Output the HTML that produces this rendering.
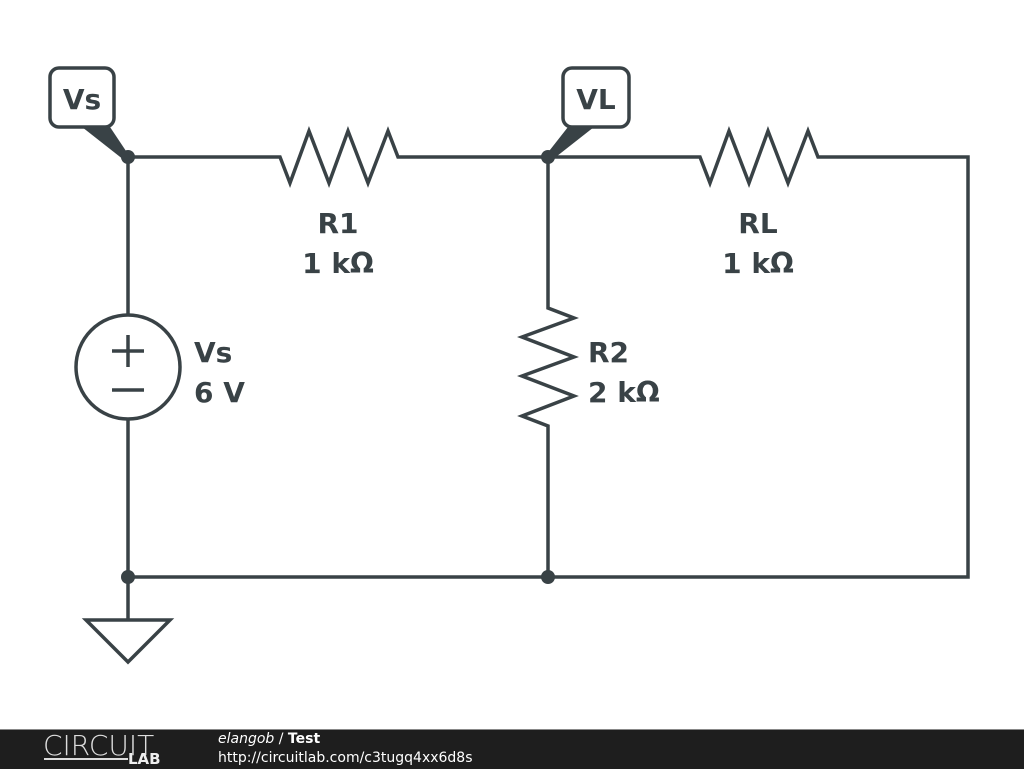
<!DOCTYPE html>
<html><head><style>
body{margin:0;width:1024px;height:768px;background:#fff;overflow:hidden;position:relative;font-family:"DejaVu Sans","Liberation Sans",sans-serif}
svg{position:absolute;left:0;top:0}
.f{position:absolute;left:0;top:729px;width:1024px;height:39px;background:#1e1e1e;border-top:1px solid #888}
</style></head><body>
<svg width="1024" height="768" viewBox="0 0 1024 768">
<g stroke="#394246" stroke-width="3.5" fill="none" stroke-linejoin="miter">
<path d="M128 157 H280 L290 183 L309 131 L329 183 L348 131 L368 183 L388 131 L398 157 H700 L710 183 L729 131 L749 183 L768 131 L788 183 L808 131 L818 157 H968 V577 H128 Z"/>
<path d="M548 157 V308 L574 318 L522 337 L574 357 L522 376 L574 396 L522 416 L548 426 V577"/>
<path d="M128 577 V620 M86 620 H170 L128 662 Z"/>
<circle cx="128" cy="367" r="52" fill="#fff"/>
<path d="M112 351 H144 M128 335 V367 M112 390 H144"/>
<rect x="50" y="68" width="64" height="59" rx="9" fill="#fff"/>
<rect x="563" y="68" width="66" height="59" rx="9" fill="#fff"/>
</g>
<g fill="#394246">
<circle cx="128" cy="157" r="7"/><circle cx="548" cy="157" r="7"/>
<circle cx="128" cy="577" r="7"/><circle cx="548" cy="577" r="7"/>
<polygon points="82,127 110,127 130,157 124,160"/>
<polygon points="568,127 594,127 552,160 546,155"/>
</g>
<g fill="#394246" font-family="DejaVu Sans,Liberation Sans,sans-serif" font-weight="bold" font-size="28">
<text x="82" y="109" text-anchor="middle">Vs</text>
<text x="596" y="109" text-anchor="middle">VL</text>
<text x="338" y="233" text-anchor="middle">R1</text>
<text x="338" y="273" text-anchor="middle">1 kΩ</text>
<text x="758" y="233" text-anchor="middle">RL</text>
<text x="758" y="273" text-anchor="middle">1 kΩ</text>
<text x="588" y="362">R2</text>
<text x="588" y="402">2 kΩ</text>
<text x="194" y="362">Vs</text>
<text x="194" y="402">6 V</text>
</g>
</svg>
<div class="f">
<div style="position:absolute;left:43px;top:-1px;color:#ddd;font-size:28px;letter-spacing:0px;font-family:'DejaVu Sans',sans-serif;font-weight:200">CIRCUIT</div>
<div style="position:absolute;left:44px;top:28px;width:84px;height:2px;background:#ddd"></div>
<div style="position:absolute;left:128px;top:20px;color:#eee;font-size:15px;font-weight:bold">LAB</div>
<div style="position:absolute;left:218px;top:1px;color:#fff;font-size:14px"><i>elangob</i> / <b>Test</b></div>
<div style="position:absolute;left:218px;top:20px;color:#fff;font-size:14px">http://circuitlab.com/c3tugq4xx6d8s</div>
</div>
</body></html>
